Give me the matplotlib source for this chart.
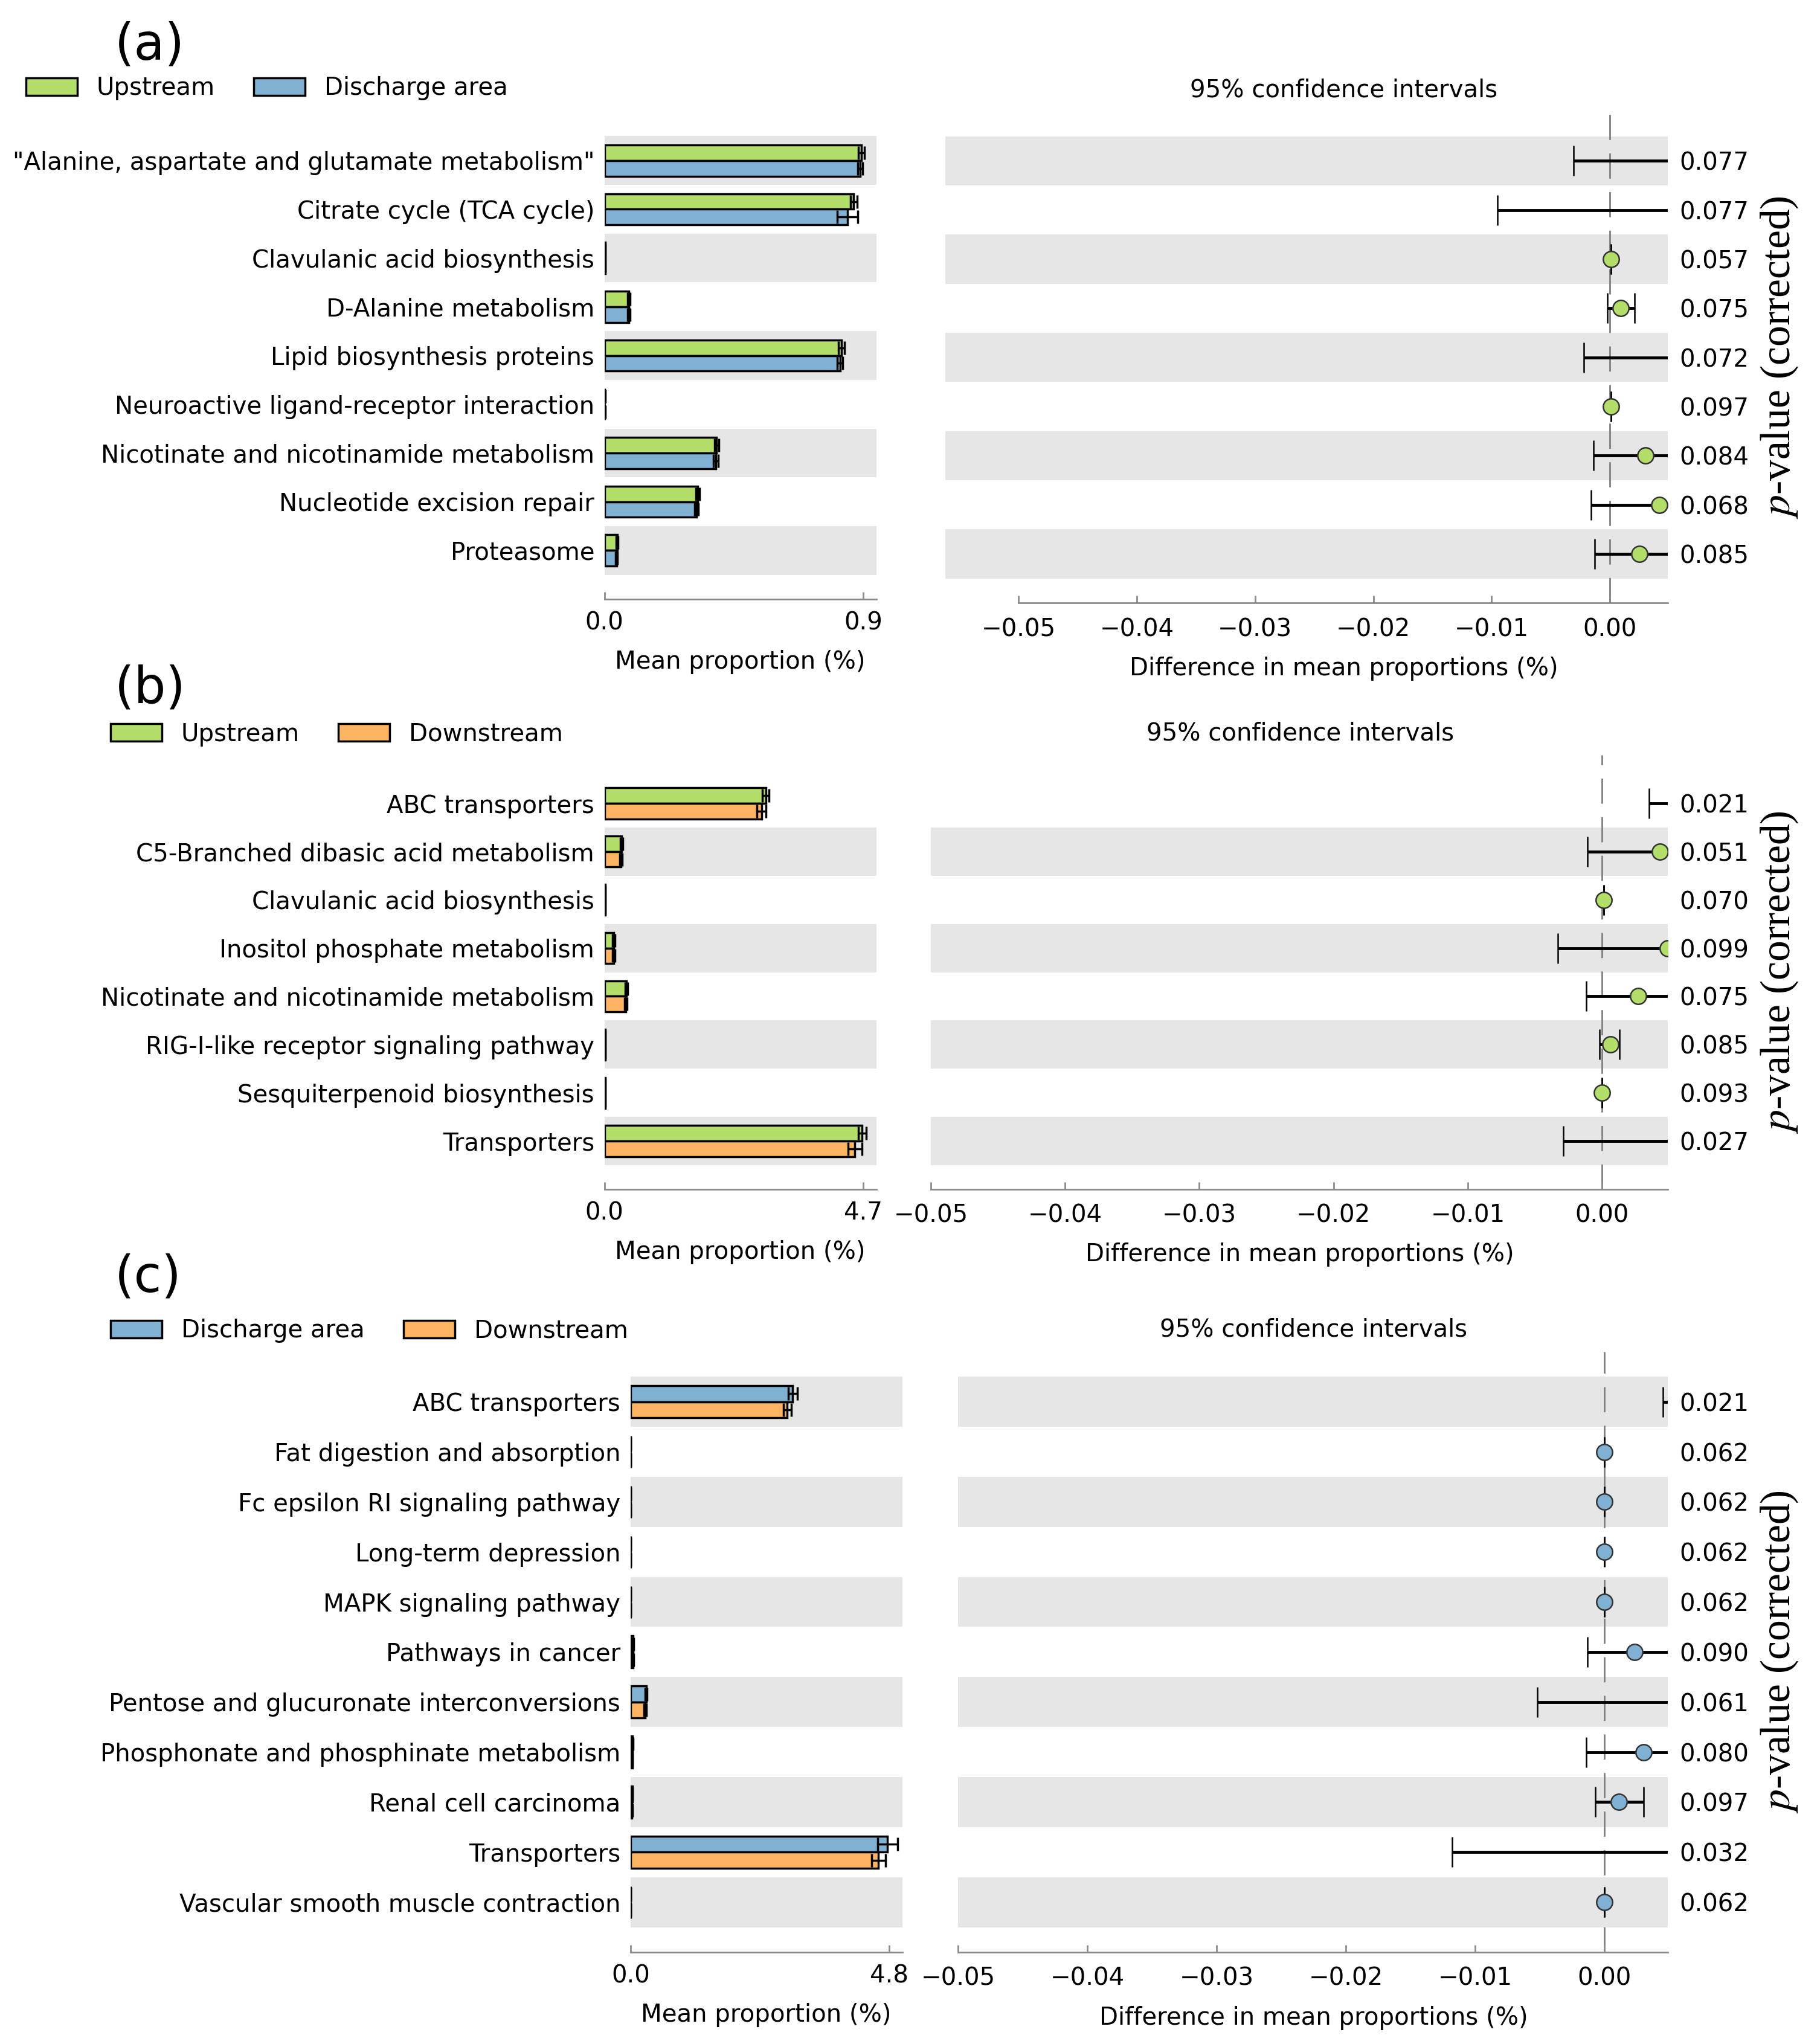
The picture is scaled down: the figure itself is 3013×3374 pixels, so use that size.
import matplotlib.pyplot as plt
from matplotlib.ticker import FuncFormatter

plt.rcParams['font.family'] = ['DejaVu Sans']
plt.rcParams['mathtext.fontset'] = 'stix'

GREEN = '#b3de69'
BLUE = '#80b1d3'
ORANGE = '#fdb462'
BAND = '#e6e6e6'
AXIS_GREY = '#8c8c8c'
FS = 29

# ---- (a) Upstream vs Discharge area
a_groups = ['Upstream', 'Discharge area']
a_names = ['"Alanine, aspartate and glutamate metabolism"', 'Citrate cycle (TCA cycle)',
           'Clavulanic acid biosynthesis', 'D-Alanine metabolism', 'Lipid biosynthesis proteins',
           'Neuroactive ligand-receptor interaction', 'Nicotinate and nicotinamide metabolism',
           'Nucleotide excision repair', 'Proteasome']
a_mean1 = [0.893, 0.867, 0.002, 0.085, 0.824, 0.001, 0.390, 0.324, 0.044]
a_err1 = [0.010, 0.012, 0.001, 0.004, 0.010, 0.001, 0.008, 0.007, 0.003]
a_mean2 = [0.889, 0.845, 0.002, 0.085, 0.819, 0.001, 0.387, 0.320, 0.042]
a_err2 = [0.009, 0.035, 0.001, 0.004, 0.010, 0.001, 0.008, 0.007, 0.003]
a_diff = [0.006, 0.008, 0.0001, 0.0009, 0.006, 0.0001, 0.0030, 0.0042, 0.0025]
a_low = [-0.0031, -0.0095, 0.0001, -0.0002, -0.0022, 0.0001, -0.0014, -0.0016, -0.0013]
a_high = [0.015, 0.025, 0.0001, 0.0021, 0.014, 0.0001, 0.0075, 0.0100, 0.0063]
a_pvals = ['0.077', '0.077', '0.057', '0.075', '0.072', '0.097', '0.084', '0.068', '0.085']

# ---- (b) Upstream vs Downstream
b_groups = ['Upstream', 'Downstream']
b_names = ['ABC transporters', 'C5-Branched dibasic acid metabolism', 'Clavulanic acid biosynthesis',
           'Inositol phosphate metabolism', 'Nicotinate and nicotinamide metabolism',
           'RIG-I-like receptor signaling pathway', 'Sesquiterpenoid biosynthesis', 'Transporters']
b_mean1 = [2.93, 0.31, 0.01, 0.17, 0.40, 0.01, 0.01, 4.68]
b_err1 = [0.06, 0.02, 0.002, 0.02, 0.02, 0.002, 0.002, 0.07]
b_mean2 = [2.85, 0.30, 0.01, 0.17, 0.39, 0.01, 0.01, 4.55]
b_err2 = [0.08, 0.02, 0.002, 0.02, 0.02, 0.002, 0.002, 0.13]
b_diff = [0.030, 0.0043, 0.0001, 0.0049, 0.0027, 0.0006, 0.0000, 0.012]
b_low = [0.0035, -0.0011, 0.0001, -0.0033, -0.0012, -0.0002, 0.0000, -0.0029]
b_high = [0.060, 0.0075, 0.0001, 0.013, 0.0060, 0.0013, 0.0000, 0.030]
b_pvals = ['0.021', '0.051', '0.070', '0.099', '0.075', '0.085', '0.093', '0.027']

# ---- (c) Discharge area vs Downstream
c_groups = ['Discharge area', 'Downstream']
c_names = ['ABC transporters', 'Fat digestion and absorption', 'Fc epsilon RI signaling pathway',
           'Long-term depression', 'MAPK signaling pathway', 'Pathways in cancer',
           'Pentose and glucuronate interconversions', 'Phosphonate and phosphinate metabolism',
           'Renal cell carcinoma', 'Transporters', 'Vascular smooth muscle contraction']
c_mean1 = [3.01, 0.005, 0.005, 0.005, 0.005, 0.050, 0.29, 0.040, 0.035, 4.77, 0.005]
c_err1 = [0.08, 0.001, 0.001, 0.001, 0.001, 0.010, 0.02, 0.005, 0.005, 0.18, 0.001]
c_mean2 = [2.91, 0.005, 0.005, 0.005, 0.005, 0.045, 0.27, 0.035, 0.030, 4.60, 0.005]
c_err2 = [0.07, 0.001, 0.001, 0.001, 0.001, 0.010, 0.02, 0.005, 0.005, 0.13, 0.001]
c_diff = [0.020, 0.0, 0.0, 0.0, 0.0, 0.0023, 0.008, 0.0030, 0.0011, 0.012, 0.0]
c_low = [0.0045, 0.0, 0.0, 0.0, 0.0, -0.0013, -0.0052, -0.0014, -0.0007, -0.0118, 0.0]
c_high = [0.040, 0.0, 0.0, 0.0, 0.0, 0.0060, 0.020, 0.0065, 0.0030, 0.030, 0.0]
c_pvals = ['0.021', '0.062', '0.062', '0.062', '0.062', '0.090', '0.061', '0.080', '0.097', '0.032', '0.062']

# layout in reference units (1400 x 1568)
W, H = 1400.0, 1568.0


def frac(x0, x1, y0, y1):
    return [x0 / W, 1 - y1 / H, (x1 - x0) / W, (y1 - y0) / H]


def diff_fmt(v, pos):
    s = '%.2f' % v
    if s == '-0.00':
        s = '0.00'
    return s.replace('-', '\u2212')


def style_bottom(ax, pad):
    for s in ['top', 'left', 'right']:
        ax.spines[s].set_visible(False)
    ax.spines['bottom'].set_color(AXIS_GREY)
    ax.spines['bottom'].set_linewidth(2)
    ax.tick_params(axis='x', direction='in', length=9, width=2, color=AXIS_GREY,
                   labelsize=FS, pad=pad)


def draw_panel(fig, tag, tag_y, groups, colors, names, m1, e1, m2, e2, diff, low, high, pvals,
               lbox, rbox, xtick, dlim, leg_x, leg_y):
    n = len(names)
    rows = list(range(n))
    axl = fig.add_axes(frac(*lbox))
    axr = fig.add_axes(frac(*rbox))

    for ax in (axl, axr):
        for i in rows:
            if (n - 1 - i) % 2 == 0:
                ax.axhspan(i - 0.5, i + 0.5, color=BAND, lw=0, zorder=0)
        ax.set_ylim(n, -1)
    style_bottom(axl, 14)
    style_bottom(axr, 17)

    # mean proportions
    h = 0.32
    ekw = dict(ecolor='black', elinewidth=2.5, capsize=8, capthick=2.5)
    axl.barh([i - h / 2 for i in rows], m1, height=h, color=colors[0], edgecolor='black',
             linewidth=2.5, xerr=e1, error_kw=ekw, label=groups[0], zorder=2)
    axl.barh([i + h / 2 for i in rows], m2, height=h, color=colors[1], edgecolor='black',
             linewidth=2.5, xerr=e2, error_kw=ekw, label=groups[1], zorder=2)
    axl.set_xlim(0, xtick * 1.05)
    axl.set_xticks([0, xtick])
    axl.set_xticklabels(['0.0', '%.1f' % xtick])
    axl.set_yticks(rows)
    axl.set_yticklabels(names, fontsize=FS)
    axl.tick_params(axis='y', length=0, pad=12)
    axl.set_xlabel('Mean proportion (%)', fontsize=FS, labelpad=18)
    axl.legend(loc='center left', bbox_to_anchor=(leg_x / W, 1 - leg_y / H),
               bbox_transform=fig.transFigure, ncol=2, frameon=False, fontsize=FS,
               handlelength=2.1, handleheight=0.75, handletextpad=0.8, columnspacing=1.6,
               borderpad=0, borderaxespad=0)

    # difference in mean proportions
    xerr = [[d - lo for d, lo in zip(diff, low)], [hi - d for d, hi in zip(diff, high)]]
    axr.axvline(0, color='#7f7f7f', lw=2, dashes=(15, 8), zorder=1)
    axr.errorbar(diff, rows, xerr=xerr, fmt='o', color=colors[0], ms=19, mec='#333333',
                 mew=1.8, ecolor='black', elinewidth=3.5, capsize=18, capthick=3.5, zorder=3)
    axr.set_xlim(dlim, 0.0049)
    axr.spines['bottom'].set_bounds(-0.05, 0.0049)
    axr.set_xticks([-0.05, -0.04, -0.03, -0.02, -0.01, 0.0])
    axr.xaxis.set_major_formatter(FuncFormatter(diff_fmt))
    axr.set_yticks([])
    cx = (-0.0225 - dlim) / (0.0049 - dlim)
    axr.set_xlabel('Difference in mean proportions (%)', fontsize=FS, labelpad=18, x=cx)
    axr.set_title('95% confidence intervals', fontsize=FS, pad=18, x=cx)

    axp = axr.twinx()
    axp.set_ylim(n, -1)
    axp.set_yticks(rows)
    axp.set_yticklabels(pvals, fontsize=FS)
    axp.tick_params(axis='y', length=0, pad=14)
    for s in axp.spines.values():
        s.set_visible(False)
    axp.set_ylabel(r'$p$-value (corrected)', family='Liberation Serif', fontsize=50,
                   labelpad=12)

    fig.text(88 / W, 1 - tag_y / H, tag, fontsize=60, ha='left', va='center')


fig = plt.figure(figsize=(30.13, 33.74), dpi=100)

draw_panel(fig, '(a)', 35, a_groups, [GREEN, BLUE], a_names, a_mean1, a_err1, a_mean2, a_err2,
           a_diff, a_low, a_high, a_pvals,
           (465, 674, 86, 461), (727, 1283, 86, 464), 0.9, -0.0562, 20, 68)
draw_panel(fig, '(b)', 530, b_groups, [GREEN, ORANGE], b_names, b_mean1, b_err1, b_mean2, b_err2,
           b_diff, b_low, b_high, b_pvals,
           (465, 674, 581, 915), (716, 1283, 581, 915), 4.7, -0.05, 85, 565)
draw_panel(fig, '(c)', 983, c_groups, [BLUE, ORANGE], c_names, c_mean1, c_err1, c_mean2, c_err2,
           c_diff, c_low, c_high, c_pvals,
           (485, 694, 1040, 1502), (737, 1283, 1040, 1502), 4.8, -0.05, 85, 1024)

fig.savefig('out.png', dpi=100)
